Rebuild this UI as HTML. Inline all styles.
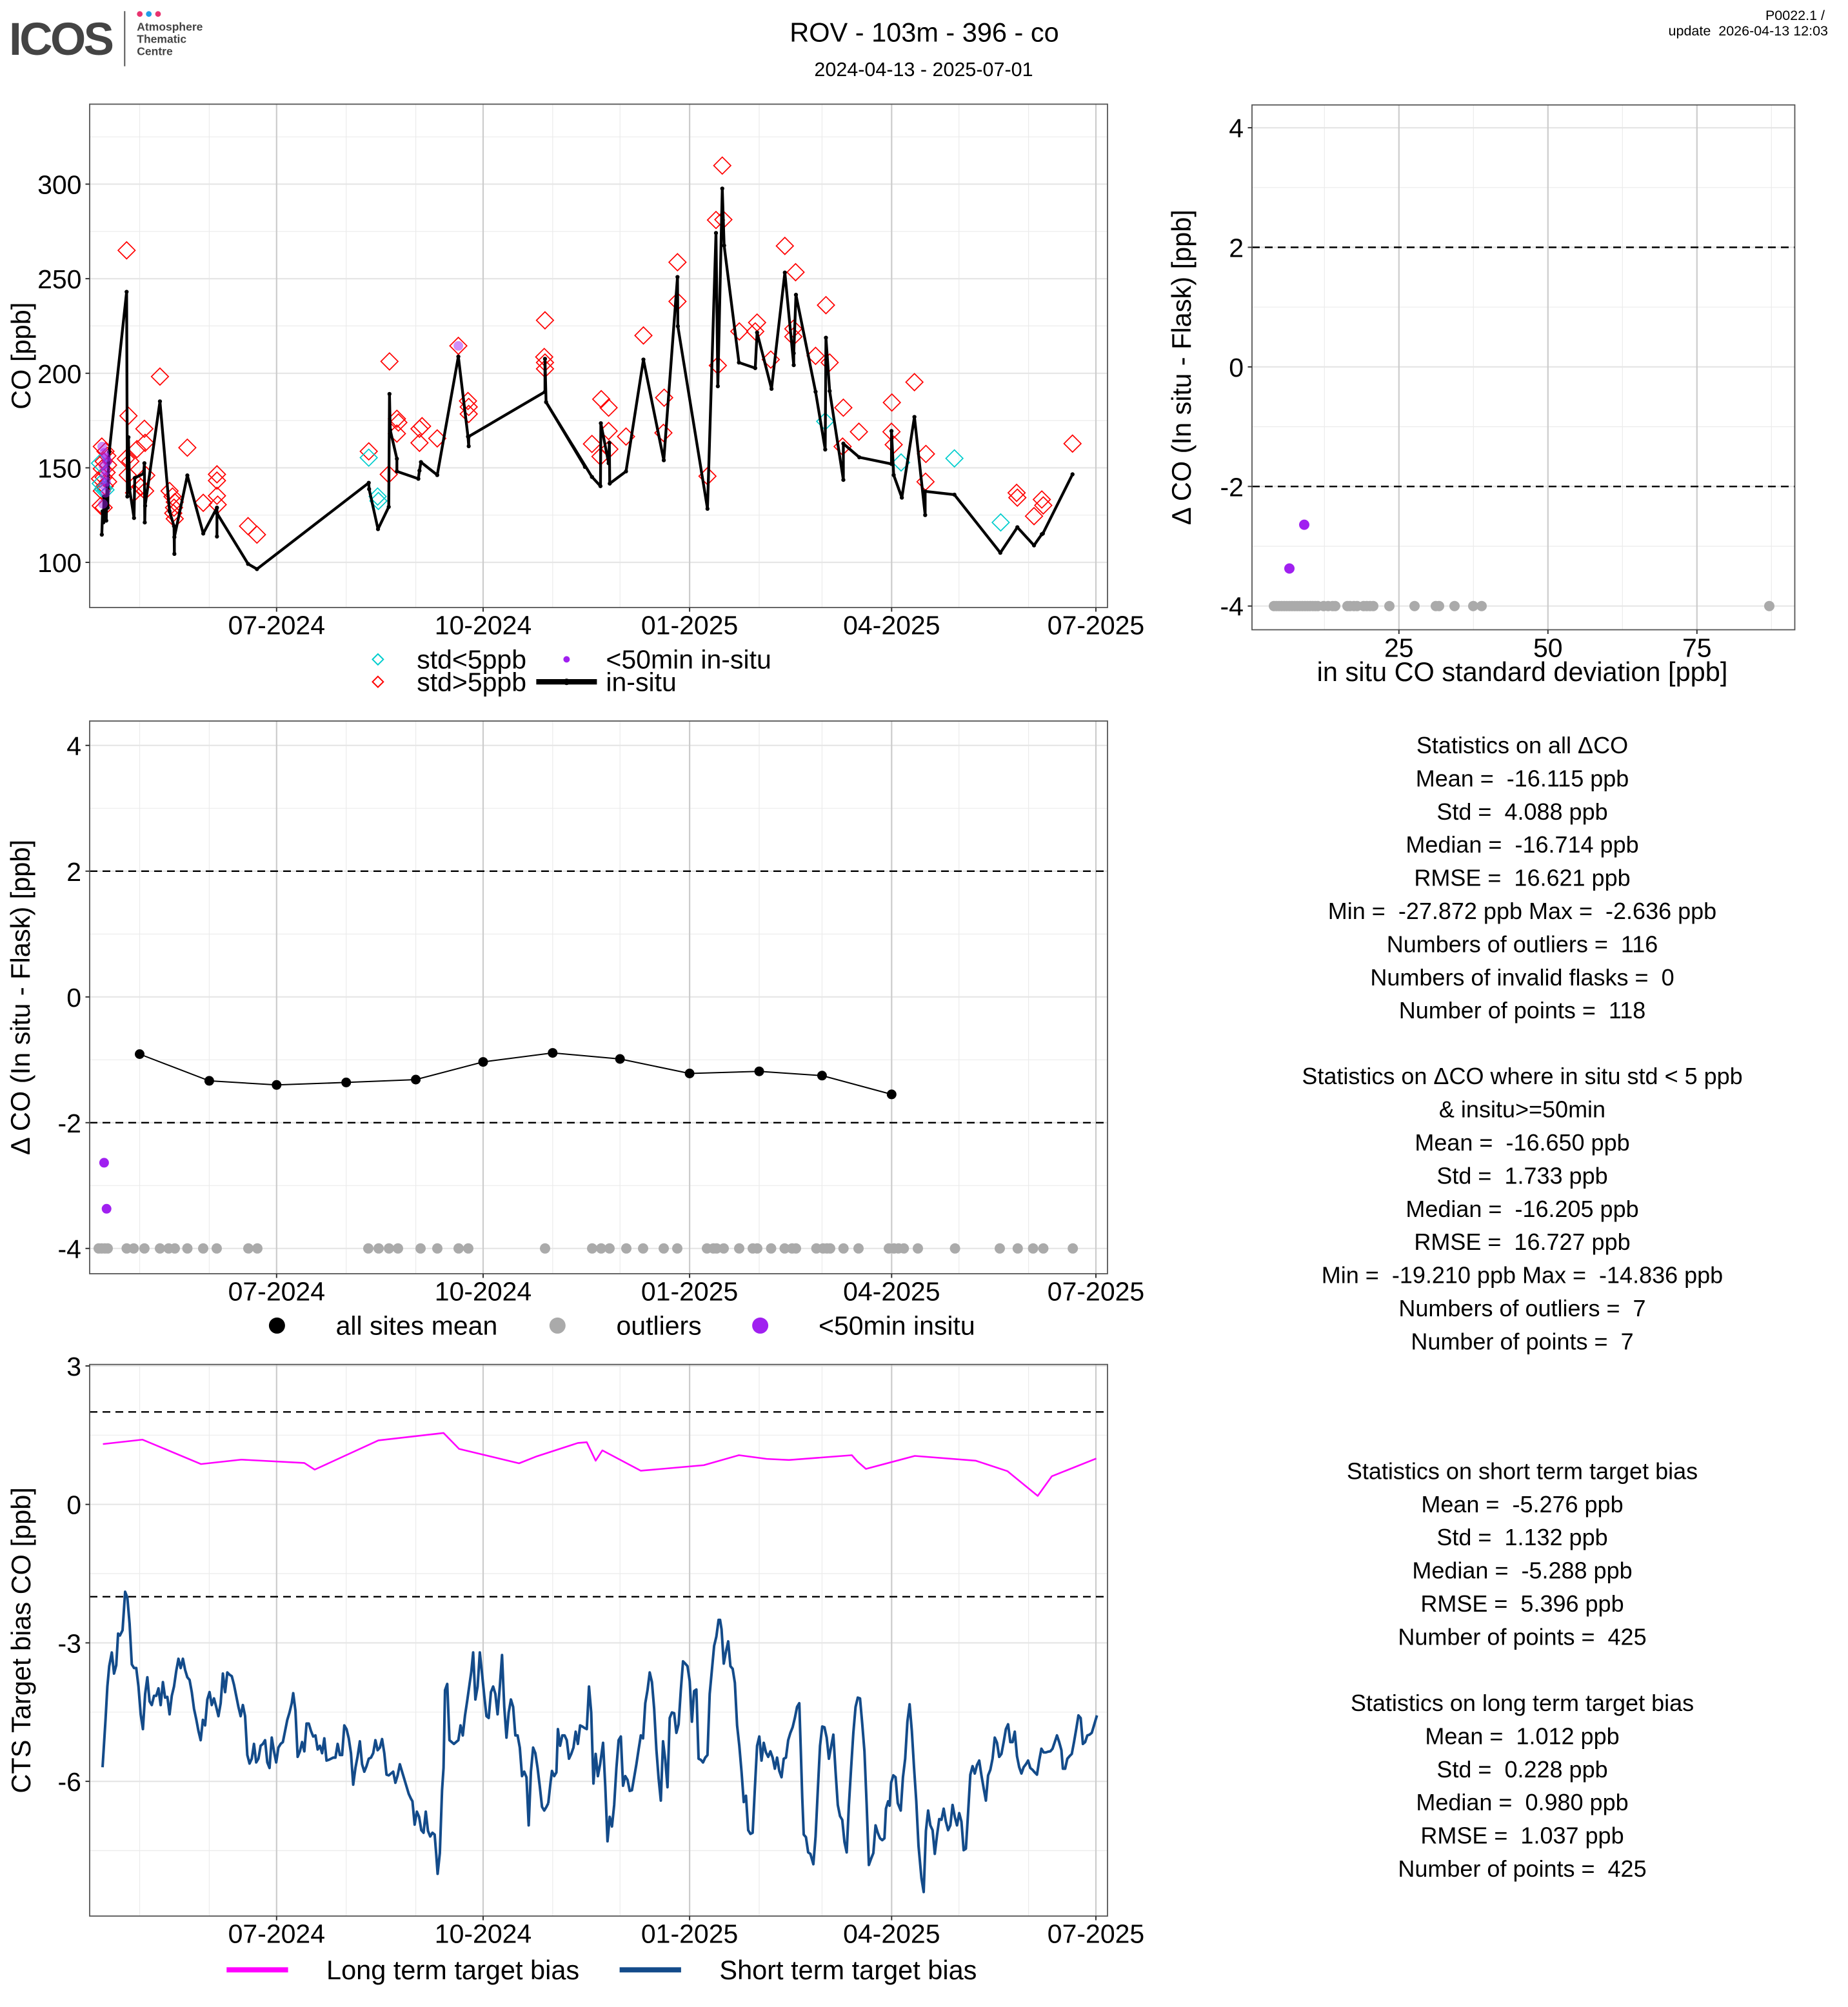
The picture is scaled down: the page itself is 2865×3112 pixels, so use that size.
<!DOCTYPE html>
<html><head><meta charset="utf-8">
<style>
html,body{margin:0;padding:0;background:#fff;}
svg{display:block;}
text{font-family:"Liberation Sans",Arial,sans-serif;fill:#000;}
</style></head>
<body>
<svg width="2865" height="3112" viewBox="0 0 2865 3112" xmlns="http://www.w3.org/2000/svg">
<defs>
<clipPath id="cTop"><rect x="139" y="161.5" width="1578" height="780.5"/></clipPath>
<clipPath id="cMid"><rect x="139" y="1118" width="1578" height="857"/></clipPath>
<clipPath id="cBot"><rect x="139" y="2115.7" width="1578" height="855.3"/></clipPath>
<path id="dm" d="M0,-23L23,0L0,23L-23,0Z" fill="none" stroke-width="3"/>
<marker id="mk" markerUnits="userSpaceOnUse" markerWidth="14" markerHeight="14" refX="7" refY="7"><circle cx="7" cy="7" r="5.5" fill="#000"/></marker>
</defs>
<rect width="2865" height="3112" fill="#fff"/>

<!-- header -->
<text x="14" y="85" font-size="71" font-weight="bold" textLength="163" lengthAdjust="spacing" style="fill:#444">ICOS</text>
<line x1="193.3" y1="17.3" x2="193.3" y2="102.7" stroke="#555" stroke-width="2"/>
<circle cx="216.7" cy="21.7" r="4.4" fill="#e8336f"/>
<circle cx="230.7" cy="21.7" r="4.4" fill="#1e9ee8"/>
<circle cx="245" cy="21.7" r="4.4" fill="#e8336f"/>
<text x="212.3" y="47.7" font-size="17.5" font-weight="bold" style="fill:#444">Atmosphere</text>
<text x="212.3" y="66.3" font-size="17.5" font-weight="bold" style="fill:#444">Thematic</text>
<text x="212.3" y="85.3" font-size="17.5" font-weight="bold" style="fill:#444">Centre</text>
<text x="1433" y="64.5" font-size="41.5" text-anchor="middle">ROV - 103m - 396 - co</text>
<text x="1432" y="118" font-size="30.5" text-anchor="middle">2024-04-13 - 2025-07-01</text>
<text x="2829" y="31" font-size="21.5" text-anchor="end">P0022.1 /</text>
<text x="2834" y="55" font-size="21.5" text-anchor="end">update &#160;2026-04-13 12:03</text>

<!-- ================= TOP PLOT ================= -->
<g stroke="#ebebeb" stroke-width="1.2">
<line x1="139" x2="1717" y1="212.2" y2="212.2"/><line x1="139" x2="1717" y1="358.8" y2="358.8"/>
<line x1="139" x2="1717" y1="505.4" y2="505.4"/><line x1="139" x2="1717" y1="652.1" y2="652.1"/>
<line x1="139" x2="1717" y1="798.7" y2="798.7"/>
<line y1="161.5" y2="942" x1="216.5" x2="216.5"/><line y1="161.5" y2="942" x1="324.4" x2="324.4"/>
<line y1="161.5" y2="942" x1="536.7" x2="536.7"/><line y1="161.5" y2="942" x1="644.6" x2="644.6"/>
<line y1="161.5" y2="942" x1="856.8" x2="856.8"/><line y1="161.5" y2="942" x1="961.2" x2="961.2"/>
<line y1="161.5" y2="942" x1="1177" x2="1177"/><line y1="161.5" y2="942" x1="1274.4" x2="1274.4"/>
<line y1="161.5" y2="942" x1="1486.7" x2="1486.7"/><line y1="161.5" y2="942" x1="1594.6" x2="1594.6"/>
</g>
<g stroke="#e6e6e6" stroke-width="2.2">
<line x1="139" x2="1717" y1="285.5" y2="285.5"/><line x1="139" x2="1717" y1="432.1" y2="432.1"/>
<line x1="139" x2="1717" y1="578.8" y2="578.8"/><line x1="139" x2="1717" y1="725.4" y2="725.4"/>
<line x1="139" x2="1717" y1="872" y2="872"/>
</g>
<g stroke="#cccccc" stroke-width="2.2">
<line y1="161.5" y2="942" x1="428.8" x2="428.8"/><line y1="161.5" y2="942" x1="749" x2="749"/>
<line y1="161.5" y2="942" x1="1069.1" x2="1069.1"/><line y1="161.5" y2="942" x1="1382.3" x2="1382.3"/>
<line y1="161.5" y2="942" x1="1699" x2="1699"/>
</g>

<g clip-path="url(#cTop)">
<g transform="translate(0,150) scale(0.57398)">
<g stroke="#ff0000">
<use href="#dm" x="275" y="945"/><use href="#dm" x="285" y="958"/><use href="#dm" x="290" y="970"/><use href="#dm" x="280" y="985"/>
<use href="#dm" x="292" y="995"/><use href="#dm" x="275" y="1005"/><use href="#dm" x="288" y="1015"/><use href="#dm" x="280" y="1028"/>
<use href="#dm" x="270" y="1032"/><use href="#dm" x="292" y="1040"/><use href="#dm" x="283" y="1052"/><use href="#dm" x="275" y="1065"/>
<use href="#dm" x="272" y="1105"/><use href="#dm" x="280" y="1110"/>
<use href="#dm" x="342" y="415"/><use href="#dm" x="347" y="862"/><use href="#dm" x="340" y="978"/><use href="#dm" x="352" y="985"/>
<use href="#dm" x="345" y="1022"/><use href="#dm" x="362" y="1070"/><use href="#dm" x="370" y="952"/><use href="#dm" x="390" y="897"/>
<use href="#dm" x="392" y="935"/><use href="#dm" x="380" y="1055"/><use href="#dm" x="395" y="1023"/><use href="#dm" x="392" y="1065"/>
<use href="#dm" x="432" y="756"/><use href="#dm" x="458" y="1065"/><use href="#dm" x="466" y="1080"/><use href="#dm" x="472" y="1095"/>
<use href="#dm" x="470" y="1110"/><use href="#dm" x="468" y="1125"/><use href="#dm" x="472" y="1140"/><use href="#dm" x="506" y="948"/>
<use href="#dm" x="549" y="1097"/><use href="#dm" x="586" y="1020"/><use href="#dm" x="586" y="1037"/><use href="#dm" x="586" y="1078"/>
<use href="#dm" x="588" y="1102"/><use href="#dm" x="670" y="1160"/><use href="#dm" x="694" y="1183"/><use href="#dm" x="996" y="958"/>
<use href="#dm" x="1052" y="715"/><use href="#dm" x="1050" y="1020"/><use href="#dm" x="1072" y="870"/><use href="#dm" x="1076" y="880"/>
<use href="#dm" x="1072" y="910"/><use href="#dm" x="1133" y="897"/><use href="#dm" x="1140" y="890"/><use href="#dm" x="1133" y="935"/>
<use href="#dm" x="1181" y="923"/><use href="#dm" x="1238" y="673"/><use href="#dm" x="1264" y="822"/><use href="#dm" x="1266" y="838"/>
<use href="#dm" x="1266" y="857"/><use href="#dm" x="1472" y="604"/><use href="#dm" x="1470" y="703"/><use href="#dm" x="1472" y="718"/>
<use href="#dm" x="1472" y="735"/>
</g>
<g stroke="#00cdcd">
<use href="#dm" x="996" y="975"/><use href="#dm" x="1020" y="1080"/><use href="#dm" x="1022" y="1092"/>
<use href="#dm" x="270" y="990"/><use href="#dm" x="272" y="1045"/><use href="#dm" x="278" y="1060"/><use href="#dm" x="285" y="1062"/>
</g>
<polyline fill="none" stroke="#000" stroke-width="7.5" stroke-linejoin="round" marker-start="url(#mk)" marker-mid="url(#mk)" marker-end="url(#mk)"
points="275,1183 277,1120 279,1150 281,1080 283,1130 285,1090 287,1145 289,1050 291,1110 293,990 295,960 342,527 344,1080 347,920 350,1060 362,1138 364,1030 388,1018 390,990 391,1150 392,1105 432,823 458,1120 470,1160 471,1235 471,1190 506,1023 549,1180 586,1110 586,1188 586,1125 670,1262 694,1276 996,1043 997,1060 1021,1168 1050,1108 1052,803 1054,900 1072,978 1072,1012 1130,1032 1133,1010 1137,987 1181,1022 1238,702 1264,918 1266,944 1266,918 1472,797 1472,708 1475,825 1580,1000"/>
<g fill="#a020f0" fill-opacity="0.5">
<circle cx="276" cy="945" r="13"/><circle cx="282" cy="962" r="13"/><circle cx="286" cy="975" r="13"/><circle cx="290" cy="985" r="13"/>
<circle cx="280" cy="998" r="13"/><circle cx="286" cy="1010" r="13"/><circle cx="282" cy="1025" r="13"/><circle cx="287" cy="1040" r="13"/>
<circle cx="281" cy="1050" r="13"/><circle cx="285" cy="1070" r="13"/><circle cx="278" cy="1100" r="13"/><circle cx="1238" cy="673" r="13"/>
</g>
</g>
<g transform="translate(850,150) scale(0.57398)">
<g stroke="#ff0000">
<use href="#dm" x="470" y="186"/><use href="#dm" x="453" y="333"/><use href="#dm" x="473" y="332"/><use href="#dm" x="349" y="447"/>
<use href="#dm" x="349" y="553"/><use href="#dm" x="257" y="645"/><use href="#dm" x="458" y="726"/><use href="#dm" x="143" y="817"/>
<use href="#dm" x="163" y="840"/><use href="#dm" x="313" y="813"/><use href="#dm" x="118" y="938"/><use href="#dm" x="163" y="903"/>
<use href="#dm" x="141" y="972"/><use href="#dm" x="165" y="952"/><use href="#dm" x="210" y="918"/><use href="#dm" x="311" y="908"/>
<use href="#dm" x="430" y="1025"/><use href="#dm" x="516" y="634"/><use href="#dm" x="564" y="610"/><use href="#dm" x="559" y="634"/>
<use href="#dm" x="601" y="710"/><use href="#dm" x="639" y="403"/><use href="#dm" x="668" y="474"/><use href="#dm" x="662" y="627"/>
<use href="#dm" x="662" y="648"/><use href="#dm" x="722" y="700"/><use href="#dm" x="750" y="563"/><use href="#dm" x="760" y="718"/>
<use href="#dm" x="797" y="840"/><use href="#dm" x="795" y="945"/><use href="#dm" x="839" y="905"/><use href="#dm" x="928" y="826"/>
<use href="#dm" x="927" y="905"/><use href="#dm" x="933" y="940"/><use href="#dm" x="989" y="771"/><use href="#dm" x="1020" y="965"/>
<use href="#dm" x="1019" y="1040"/><use href="#dm" x="1416" y="937"/><use href="#dm" x="1265" y="1070"/><use href="#dm" x="1267" y="1083"/>
<use href="#dm" x="1312" y="1133"/><use href="#dm" x="1333" y="1088"/><use href="#dm" x="1337" y="1104"/>
</g>
<g stroke="#00cdcd">
<use href="#dm" x="748" y="877"/><use href="#dm" x="953" y="988"/><use href="#dm" x="1097" y="977"/><use href="#dm" x="1222" y="1150"/>
</g>
<polyline fill="none" stroke="#000" stroke-width="7.5" stroke-linejoin="round" marker-mid="url(#mk)" marker-end="url(#mk)"
points="-6,825 118,1027 141,1052 142,882 163,990 165,935 166,1045 210,1012 257,710 312,982 349,487 350,620 430,1113 453,368 458,782 470,248 475,402 515,718 559,733 564,637 603,789 639,475 663,725 663,693 669,535 722,797 748,953 750,651 760,795 797,1035 797,937 840,974 927,992 927,903 933,1022 955,1083 989,865 1018,1130 1018,1066 1097,1075 1221,1232 1267,1163 1312,1212 1333,1182 1336,1180 1416,1020"/>
</g>
</g>
<rect x="139" y="161.5" width="1578" height="780.5" fill="none" stroke="#555" stroke-width="1.8"/>
<g stroke="#333" stroke-width="2">
<line x1="132.5" x2="139" y1="285.5" y2="285.5"/><line x1="132.5" x2="139" y1="432.1" y2="432.1"/>
<line x1="132.5" x2="139" y1="578.8" y2="578.8"/><line x1="132.5" x2="139" y1="725.4" y2="725.4"/>
<line x1="132.5" x2="139" y1="872" y2="872"/>
<line y1="942" y2="948.5" x1="428.8" x2="428.8"/><line y1="942" y2="948.5" x1="749" x2="749"/>
<line y1="942" y2="948.5" x1="1069.1" x2="1069.1"/><line y1="942" y2="948.5" x1="1382.3" x2="1382.3"/>
<line y1="942" y2="948.5" x1="1699" x2="1699"/>
</g>
<g font-size="41" text-anchor="end">
<text x="126.5" y="300.5">300</text><text x="126.5" y="447.1">250</text><text x="126.5" y="593.8">200</text>
<text x="126.5" y="740.4">150</text><text x="126.5" y="887">100</text>
</g>
<g font-size="41" text-anchor="middle">
<text x="428.8" y="983.4">07-2024</text><text x="749" y="983.4">10-2024</text><text x="1069.1" y="983.4">01-2025</text>
<text x="1382.3" y="983.4">04-2025</text><text x="1699" y="983.4">07-2025</text>
</g>
<text transform="translate(47,551.8) rotate(-90)" font-size="41.5" text-anchor="middle">CO [ppb]</text>
<!-- top legend -->
<path d="M585.9,1014L594.3,1022.4L585.9,1030.8L577.5,1022.4Z" fill="none" stroke="#00cdcd" stroke-width="2"/>
<path d="M585.9,1048.8L594.3,1057.2L585.9,1065.6L577.5,1057.2Z" fill="none" stroke="#ff0000" stroke-width="2"/>
<text x="646.2" y="1036.5" font-size="41">std&lt;5ppb</text>
<text x="646.2" y="1071.5" font-size="41">std&gt;5ppb</text>
<circle cx="878.4" cy="1022.4" r="5" fill="#a020f0"/>
<line x1="831.4" x2="925.4" y1="1057.2" y2="1057.2" stroke="#000" stroke-width="8.4"/>
<circle cx="878.4" cy="1057.2" r="5" fill="#000"/>
<text x="939.4" y="1036.5" font-size="41">&lt;50min in-situ</text>
<text x="939.4" y="1071.5" font-size="41">in-situ</text>

<!-- ================= RIGHT PLOT ================= -->
<g stroke="#ebebeb" stroke-width="1.2">
<line x1="1941" x2="2782.5" y1="290.8" y2="290.8"/><line x1="1941" x2="2782.5" y1="476.2" y2="476.2"/>
<line x1="1941" x2="2782.5" y1="661.6" y2="661.6"/><line x1="1941" x2="2782.5" y1="847" y2="847"/>
<line y1="162.7" y2="976.5" x1="2053.3" x2="2053.3"/><line y1="162.7" y2="976.5" x1="2284.3" x2="2284.3"/>
<line y1="162.7" y2="976.5" x1="2515.3" x2="2515.3"/><line y1="162.7" y2="976.5" x1="2746.3" x2="2746.3"/>
</g>
<g stroke="#e6e6e6" stroke-width="2.2">
<line x1="1941" x2="2782.5" y1="198.1" y2="198.1"/><line x1="1941" x2="2782.5" y1="383.5" y2="383.5"/>
<line x1="1941" x2="2782.5" y1="568.9" y2="568.9"/><line x1="1941" x2="2782.5" y1="754.3" y2="754.3"/>
<line x1="1941" x2="2782.5" y1="939.7" y2="939.7"/>
</g>
<g stroke="#cccccc" stroke-width="2.2">
<line y1="162.7" y2="976.5" x1="2168.8" x2="2168.8"/><line y1="162.7" y2="976.5" x1="2399.8" x2="2399.8"/>
<line y1="162.7" y2="976.5" x1="2630.8" x2="2630.8"/>
</g>
<g stroke="#000" stroke-width="2.4" stroke-dasharray="12,8">
<line x1="1941" x2="2782.5" y1="383.5" y2="383.5"/><line x1="1941" x2="2782.5" y1="754.3" y2="754.3"/>
</g>
<g fill="#aaaaaa">
<circle cx="1975" cy="939.7" r="8"/><circle cx="1979" cy="939.7" r="8"/><circle cx="1983" cy="939.7" r="8"/><circle cx="1987" cy="939.7" r="8"/>
<circle cx="1991" cy="939.7" r="8"/><circle cx="1995" cy="939.7" r="8"/><circle cx="1999" cy="939.7" r="8"/><circle cx="2003" cy="939.7" r="8"/>
<circle cx="2007" cy="939.7" r="8"/><circle cx="2011" cy="939.7" r="8"/><circle cx="2015" cy="939.7" r="8"/><circle cx="2019" cy="939.7" r="8"/>
<circle cx="2023" cy="939.7" r="8"/><circle cx="2027" cy="939.7" r="8"/><circle cx="2031" cy="939.7" r="8"/><circle cx="2035" cy="939.7" r="8"/>
<circle cx="2039" cy="939.7" r="8"/><circle cx="2043" cy="939.7" r="8"/><circle cx="2052" cy="939.7" r="8"/><circle cx="2059" cy="939.7" r="8"/>
<circle cx="2066" cy="939.7" r="8"/><circle cx="2070" cy="939.7" r="8"/><circle cx="2089" cy="939.7" r="8"/><circle cx="2093" cy="939.7" r="8"/>
<circle cx="2099" cy="939.7" r="8"/><circle cx="2104" cy="939.7" r="8"/><circle cx="2114" cy="939.7" r="8"/><circle cx="2119" cy="939.7" r="8"/>
<circle cx="2124" cy="939.7" r="8"/><circle cx="2129" cy="939.7" r="8"/><circle cx="2154" cy="939.7" r="8"/><circle cx="2193" cy="939.7" r="8"/>
<circle cx="2226" cy="939.7" r="8"/><circle cx="2231" cy="939.7" r="8"/><circle cx="2255" cy="939.7" r="8"/><circle cx="2284" cy="939.7" r="8"/>
<circle cx="2297" cy="939.7" r="8"/><circle cx="2743" cy="939.7" r="8"/>
</g>
<circle cx="1999" cy="881.5" r="8" fill="#a020f0"/>
<circle cx="2022" cy="813.6" r="8" fill="#a020f0"/>
<rect x="1941" y="162.7" width="841.5" height="813.8" fill="none" stroke="#555" stroke-width="1.8"/>
<g stroke="#333" stroke-width="2">
<line x1="1934.5" x2="1941" y1="198.1" y2="198.1"/><line x1="1934.5" x2="1941" y1="383.5" y2="383.5"/>
<line x1="1934.5" x2="1941" y1="568.9" y2="568.9"/><line x1="1934.5" x2="1941" y1="754.3" y2="754.3"/>
<line x1="1934.5" x2="1941" y1="939.7" y2="939.7"/>
<line y1="976.5" y2="983" x1="2168.8" x2="2168.8"/><line y1="976.5" y2="983" x1="2399.8" x2="2399.8"/>
<line y1="976.5" y2="983" x1="2630.8" x2="2630.8"/>
</g>
<g font-size="41" text-anchor="end">
<text x="1928" y="213.1">4</text><text x="1928" y="398.5">2</text><text x="1928" y="583.9">0</text>
<text x="1928" y="769.3">-2</text><text x="1928" y="954.7">-4</text>
</g>
<g font-size="41" text-anchor="middle">
<text x="2168.8" y="1018.3">25</text><text x="2399.8" y="1018.3">50</text><text x="2630.8" y="1018.3">75</text>
</g>
<text x="2360" y="1055.8" font-size="41.5" text-anchor="middle">in situ CO standard deviation [ppb]</text>
<text transform="translate(1846,569.6) rotate(-90)" font-size="41.5" text-anchor="middle">Δ CO (In situ - Flask) [ppb]</text>

<!-- ================= MIDDLE PLOT ================= -->
<g stroke="#ebebeb" stroke-width="1.2">
<line x1="139" x2="1717" y1="1253.3" y2="1253.3"/><line x1="139" x2="1717" y1="1448.3" y2="1448.3"/>
<line x1="139" x2="1717" y1="1643.3" y2="1643.3"/><line x1="139" x2="1717" y1="1838.3" y2="1838.3"/>
<line y1="1118" y2="1975" x1="216.5" x2="216.5"/><line y1="1118" y2="1975" x1="324.4" x2="324.4"/>
<line y1="1118" y2="1975" x1="536.7" x2="536.7"/><line y1="1118" y2="1975" x1="644.6" x2="644.6"/>
<line y1="1118" y2="1975" x1="856.8" x2="856.8"/><line y1="1118" y2="1975" x1="961.2" x2="961.2"/>
<line y1="1118" y2="1975" x1="1177" x2="1177"/><line y1="1118" y2="1975" x1="1274.4" x2="1274.4"/>
<line y1="1118" y2="1975" x1="1486.7" x2="1486.7"/><line y1="1118" y2="1975" x1="1594.6" x2="1594.6"/>
</g>
<g stroke="#e6e6e6" stroke-width="2.2">
<line x1="139" x2="1717" y1="1155.8" y2="1155.8"/><line x1="139" x2="1717" y1="1350.8" y2="1350.8"/>
<line x1="139" x2="1717" y1="1545.8" y2="1545.8"/><line x1="139" x2="1717" y1="1740.8" y2="1740.8"/>
<line x1="139" x2="1717" y1="1935.8" y2="1935.8"/>
</g>
<g stroke="#cccccc" stroke-width="2.2">
<line y1="1118" y2="1975" x1="428.8" x2="428.8"/><line y1="1118" y2="1975" x1="749" x2="749"/>
<line y1="1118" y2="1975" x1="1069.1" x2="1069.1"/><line y1="1118" y2="1975" x1="1382.3" x2="1382.3"/>
<line y1="1118" y2="1975" x1="1699" x2="1699"/>
</g>
<g stroke="#000" stroke-width="2.4" stroke-dasharray="12,8">
<line x1="139" x2="1717" y1="1350.8" y2="1350.8"/><line x1="139" x2="1717" y1="1740.8" y2="1740.8"/>
</g>
<g clip-path="url(#cMid)">
<polyline fill="none" stroke="#000" stroke-width="2" points="216.5,1634.5 324.4,1675.9 428.8,1682.3 536.7,1678.4 644.6,1674 749,1646.6 856.8,1632.6 961.2,1642 1069.1,1664.5 1177,1661.2 1274.4,1667.8 1382.3,1696.9"/>
<g fill="#000">
<circle cx="216.5" cy="1634.5" r="7.5"/><circle cx="324.4" cy="1675.9" r="7.5"/><circle cx="428.8" cy="1682.3" r="7.5"/>
<circle cx="536.7" cy="1678.4" r="7.5"/><circle cx="644.6" cy="1674" r="7.5"/><circle cx="749" cy="1646.6" r="7.5"/>
<circle cx="856.8" cy="1632.6" r="7.5"/><circle cx="961.2" cy="1642" r="7.5"/><circle cx="1069.1" cy="1664.5" r="7.5"/>
<circle cx="1177" cy="1661.2" r="7.5"/><circle cx="1274.4" cy="1667.8" r="7.5"/><circle cx="1382.3" cy="1696.9" r="7.5"/>
</g>
<g fill="#aaaaaa">
<circle cx="153" cy="1935.8" r="8"/><circle cx="157.5" cy="1935.8" r="8"/><circle cx="162.6" cy="1935.8" r="8"/><circle cx="167" cy="1935.8" r="8"/>
<circle cx="196.4" cy="1935.8" r="8"/><circle cx="207.3" cy="1935.8" r="8"/><circle cx="223.9" cy="1935.8" r="8"/><circle cx="248" cy="1935.8" r="8"/>
<circle cx="261.5" cy="1935.8" r="8"/><circle cx="271" cy="1935.8" r="8"/><circle cx="290.5" cy="1935.8" r="8"/><circle cx="315" cy="1935.8" r="8"/>
<circle cx="336" cy="1935.8" r="8"/><circle cx="385" cy="1935.8" r="8"/><circle cx="399" cy="1935.8" r="8"/><circle cx="571" cy="1935.8" r="8"/>
<circle cx="587" cy="1935.8" r="8"/><circle cx="603" cy="1935.8" r="8"/><circle cx="617" cy="1935.8" r="8"/><circle cx="652" cy="1935.8" r="8"/>
<circle cx="678" cy="1935.8" r="8"/><circle cx="711" cy="1935.8" r="8"/><circle cx="726" cy="1935.8" r="8"/><circle cx="845" cy="1935.8" r="8"/>
<circle cx="918" cy="1935.8" r="8"/><circle cx="932" cy="1935.8" r="8"/><circle cx="945" cy="1935.8" r="8"/><circle cx="971" cy="1935.8" r="8"/>
<circle cx="997" cy="1935.8" r="8"/><circle cx="1029" cy="1935.8" r="8"/><circle cx="1050" cy="1935.8" r="8"/><circle cx="1096" cy="1935.8" r="8"/>
<circle cx="1106" cy="1935.8" r="8"/><circle cx="1111" cy="1935.8" r="8"/><circle cx="1122" cy="1935.8" r="8"/><circle cx="1146" cy="1935.8" r="8"/>
<circle cx="1167" cy="1935.8" r="8"/><circle cx="1174" cy="1935.8" r="8"/><circle cx="1195.5" cy="1935.8" r="8"/><circle cx="1216.5" cy="1935.8" r="8"/>
<circle cx="1228" cy="1935.8" r="8"/><circle cx="1234" cy="1935.8" r="8"/><circle cx="1265.6" cy="1935.8" r="8"/><circle cx="1276" cy="1935.8" r="8"/>
<circle cx="1282" cy="1935.8" r="8"/><circle cx="1287" cy="1935.8" r="8"/><circle cx="1307.7" cy="1935.8" r="8"/><circle cx="1331" cy="1935.8" r="8"/>
<circle cx="1378" cy="1935.8" r="8"/><circle cx="1386" cy="1935.8" r="8"/><circle cx="1393" cy="1935.8" r="8"/><circle cx="1401.2" cy="1935.8" r="8"/>
<circle cx="1423" cy="1935.8" r="8"/><circle cx="1480.6" cy="1935.8" r="8"/><circle cx="1550" cy="1935.8" r="8"/><circle cx="1577.8" cy="1935.8" r="8"/>
<circle cx="1601.6" cy="1935.8" r="8"/><circle cx="1617.5" cy="1935.8" r="8"/><circle cx="1663.2" cy="1935.8" r="8"/>
</g>
<circle cx="161.4" cy="1802.9" r="7.5" fill="#a020f0"/>
<circle cx="165.2" cy="1874.3" r="7.5" fill="#a020f0"/>
</g>
<rect x="139" y="1118" width="1578" height="857" fill="none" stroke="#555" stroke-width="1.8"/>
<g stroke="#333" stroke-width="2">
<line x1="132.5" x2="139" y1="1155.8" y2="1155.8"/><line x1="132.5" x2="139" y1="1350.8" y2="1350.8"/>
<line x1="132.5" x2="139" y1="1545.8" y2="1545.8"/><line x1="132.5" x2="139" y1="1740.8" y2="1740.8"/>
<line x1="132.5" x2="139" y1="1935.8" y2="1935.8"/>
<line y1="1975" y2="1981.5" x1="428.8" x2="428.8"/><line y1="1975" y2="1981.5" x1="749" x2="749"/>
<line y1="1975" y2="1981.5" x1="1069.1" x2="1069.1"/><line y1="1975" y2="1981.5" x1="1382.3" x2="1382.3"/>
<line y1="1975" y2="1981.5" x1="1699" x2="1699"/>
</g>
<g font-size="41" text-anchor="end">
<text x="126" y="1170.8">4</text><text x="126" y="1365.8">2</text><text x="126" y="1560.8">0</text>
<text x="126" y="1755.8">-2</text><text x="126" y="1950.8">-4</text>
</g>
<g font-size="41" text-anchor="middle">
<text x="428.8" y="2016.5">07-2024</text><text x="749" y="2016.5">10-2024</text><text x="1069.1" y="2016.5">01-2025</text>
<text x="1382.3" y="2016.5">04-2025</text><text x="1699" y="2016.5">07-2025</text>
</g>
<text transform="translate(46,1546.5) rotate(-90)" font-size="41.5" text-anchor="middle">Δ CO (In situ - Flask) [ppb]</text>
<!-- middle legend -->
<circle cx="429.4" cy="2055.4" r="12.5" fill="#000"/>
<text x="520.6" y="2069.5" font-size="41">all sites mean</text>
<circle cx="864.3" cy="2055.4" r="12.5" fill="#aaaaaa"/>
<text x="955.5" y="2069.5" font-size="41">outliers</text>
<circle cx="1178.6" cy="2055.4" r="12.5" fill="#a020f0"/>
<text x="1269" y="2069.5" font-size="41">&lt;50min insitu</text>

<!-- ================= BOTTOM PLOT ================= -->
<g stroke="#ebebeb" stroke-width="1.2">
<line x1="139" x2="1717" y1="2225.3" y2="2225.3"/><line x1="139" x2="1717" y1="2440" y2="2440"/>
<line x1="139" x2="1717" y1="2654.8" y2="2654.8"/><line x1="139" x2="1717" y1="2869.5" y2="2869.5"/>
<line y1="2115.7" y2="2971" x1="216.5" x2="216.5"/><line y1="2115.7" y2="2971" x1="324.4" x2="324.4"/>
<line y1="2115.7" y2="2971" x1="536.7" x2="536.7"/><line y1="2115.7" y2="2971" x1="644.6" x2="644.6"/>
<line y1="2115.7" y2="2971" x1="856.8" x2="856.8"/><line y1="2115.7" y2="2971" x1="961.2" x2="961.2"/>
<line y1="2115.7" y2="2971" x1="1177" x2="1177"/><line y1="2115.7" y2="2971" x1="1274.4" x2="1274.4"/>
<line y1="2115.7" y2="2971" x1="1486.7" x2="1486.7"/><line y1="2115.7" y2="2971" x1="1594.6" x2="1594.6"/>
</g>
<g stroke="#e6e6e6" stroke-width="2.2">
<line x1="139" x2="1717" y1="2118" y2="2118"/><line x1="139" x2="1717" y1="2332.7" y2="2332.7"/>
<line x1="139" x2="1717" y1="2547.4" y2="2547.4"/><line x1="139" x2="1717" y1="2762.1" y2="2762.1"/>
</g>
<g stroke="#cccccc" stroke-width="2.2">
<line y1="2115.7" y2="2971" x1="428.8" x2="428.8"/><line y1="2115.7" y2="2971" x1="749" x2="749"/>
<line y1="2115.7" y2="2971" x1="1069.1" x2="1069.1"/><line y1="2115.7" y2="2971" x1="1382.3" x2="1382.3"/>
<line y1="2115.7" y2="2971" x1="1699" x2="1699"/>
</g>
<g stroke="#000" stroke-width="2.4" stroke-dasharray="12,8">
<line x1="139" x2="1717" y1="2189.3" y2="2189.3"/><line x1="139" x2="1717" y1="2475.8" y2="2475.8"/>
</g>
<g clip-path="url(#cBot)" fill="none" stroke-linejoin="round">
<g transform="translate(0,2110) scale(0.57398)">
<polyline stroke="#ff00ff" stroke-width="4.5" points="278,225 385,213 543,279 652,267 822,276 850,294 1022,215 1198,195 1240,238 1402,277 1450,258 1481,248"/>
<polyline stroke="#134b8a" stroke-width="7" points="277,1098 285,970 290,880 295,825 302,788 308,845 314,822 319,737 324,742 331,728 338,624 344,640 350,710 356,820 362,830 368,830 374,880 380,955 386,995 392,900 398,855 404,920 410,930 416,905 422,905 428,885 434,930 440,868 446,910 452,908 458,955 464,905 470,880 476,838 482,805 488,830 494,805 500,835 506,855 512,862 518,895 524,940 530,968 536,1000 542,1025 548,970 554,985 560,915 566,895 572,930 578,912 584,935 590,960 596,925 602,845 608,895 614,842 620,848 626,852 632,875 638,905 644,935 650,960 656,930 662,960 668,1065 674,1088 680,1075 686,1035 692,1085 698,1075 704,1040 710,1035 716,1025 722,1085 728,1100 734,1018 740,1055 746,1085 752,1045 758,1035 764,1030 770,1000 776,970 782,950 788,925 792,898 798,945 804,1070 810,1055 816,1030 822,1055 828,980 834,980 840,1000 846,1015 852,1012 858,1050 864,1040 870,1060 876,1020 882,1080 888,1078 894,1075 900,1072 906,1072 912,1035 918,1065 924,1065 930,985 936,995 942,1020 948,1060 954,1145 960,1100 966,1068 972,1028 978,1090 984,1110 990,1095 996,1075 1002,1072 1008,1060 1014,1025 1020,1052 1026,1045 1032,1022 1038,1060 1044,1118 1050,1120 1056,1115 1062,1110 1068,1140 1074,1120 1080,1090 1086,1110 1092,1130 1098,1150 1104,1170 1110,1183 1114,1190 1120,1253 1126,1218 1132,1232 1138,1268 1144,1275 1150,1218 1156,1270 1162,1285 1168,1275 1174,1280 1178,1330 1182,1386 1188,1330 1194,1160 1198,1100 1202,890 1208,873 1214,1025 1220,1030 1226,1035 1232,1030 1238,1025 1244,985 1250,1012 1256,958 1262,918 1268,875 1273,840 1278,788 1284,915 1290,880 1296,788 1302,845 1308,905 1314,960 1320,965 1326,895 1332,880 1338,900 1344,955 1350,880 1356,795 1362,935 1368,1018 1374,950 1380,915 1386,935 1392,1012 1398,1012 1404,1045 1410,1122 1416,1110 1422,1125 1428,1255 1434,1110 1440,1045 1446,1060 1452,1100 1458,1150 1464,1205 1470,1215 1476,1205 1481,1195"/>
</g>
<g transform="translate(850,2110) scale(0.57398)">
<polyline stroke="#ff00ff" stroke-width="4.5" points="0,248 80,222 104,220 128,270 146,242 250,297 420,282 515,255 590,265 650,268 820,255 835,272 858,292 990,257 1155,270 1240,298 1322,365 1360,312 1480,264"/>
<polyline stroke="#134b8a" stroke-width="7" points="0,1195 6,1140 10,1108 16,1122 22,1112 26,995 32,1040 38,1012 44,1012 50,1025 56,1075 62,1062 68,1045 74,1002 80,1035 86,985 92,988 98,992 104,995 110,880 116,950 122,1142 128,1062 134,1122 140,1090 148,1032 154,1150 160,1298 166,1232 172,1258 178,1200 184,1100 190,1025 196,1015 202,1148 208,1122 214,1132 220,1162 226,1160 232,1125 238,1090 244,1050 250,1012 256,1020 262,925 268,890 274,842 280,868 286,940 292,1050 298,1128 304,1188 310,1028 316,1078 322,1152 328,965 334,950 340,952 346,1005 352,982 358,890 364,812 370,818 376,825 382,865 388,975 394,892 400,888 406,1075 412,1078 418,1085 424,1072 430,1065 436,900 442,835 448,770 454,745 460,700 464,700 468,725 474,818 480,785 486,758 492,825 498,832 504,870 510,985 516,1040 522,1110 528,1192 534,1175 540,1268 546,1278 552,1275 558,1155 564,1040 570,1015 576,1080 582,1032 588,1058 594,1070 600,1055 606,1072 612,1102 618,1072 624,1108 630,1125 636,1075 642,1072 648,1025 654,1005 660,990 666,965 672,935 678,925 682,1050 686,1180 690,1280 696,1287 702,1328 708,1332 716,1360 722,1285 728,1160 734,1040 740,988 746,990 752,1018 758,1075 764,1042 770,1010 776,1110 782,1200 788,1230 794,1240 800,1300 806,1328 812,1200 818,1100 824,1005 830,935 836,910 842,912 848,980 854,1055 860,1200 866,1362 872,1345 878,1330 884,1255 890,1275 896,1290 902,1295 908,1290 912,1210 918,1190 922,1202 926,1140 932,1120 938,1125 944,1195 952,1215 958,1125 964,1075 970,975 976,928 982,1000 988,1100 994,1190 1000,1310 1008,1398 1014,1435 1020,1270 1026,1215 1032,1255 1038,1268 1044,1332 1050,1282 1056,1238 1062,1240 1068,1210 1074,1245 1080,1268 1086,1255 1092,1200 1098,1232 1104,1255 1110,1222 1116,1245 1122,1322 1128,1318 1134,1220 1140,1118 1146,1095 1152,1115 1158,1092 1164,1080 1170,1120 1176,1155 1182,1188 1188,1120 1194,1105 1200,1075 1206,1018 1212,1032 1218,1070 1224,1062 1230,1030 1236,995 1242,982 1248,1030 1254,1030 1260,1002 1266,1068 1272,1098 1278,1115 1284,1098 1290,1090 1296,1080 1302,1100 1308,1105 1314,1112 1320,1118 1326,1080 1332,1048 1338,1058 1344,1058 1350,1056 1356,1055 1362,1048 1368,1030 1374,1012 1380,1030 1386,1052 1390,1102 1396,1102 1402,1075 1408,1068 1414,1062 1420,1030 1426,995 1432,958 1438,965 1444,1035 1450,1030 1456,1012 1462,1010 1468,1005 1474,985 1482,958"/>
</g>
</g>
<rect x="139" y="2115.7" width="1578" height="855.3" fill="none" stroke="#555" stroke-width="1.8"/>
<g stroke="#333" stroke-width="2">
<line x1="132.5" x2="139" y1="2118" y2="2118"/><line x1="132.5" x2="139" y1="2332.7" y2="2332.7"/>
<line x1="132.5" x2="139" y1="2547.4" y2="2547.4"/><line x1="132.5" x2="139" y1="2762.1" y2="2762.1"/>
<line y1="2971" y2="2977.5" x1="428.8" x2="428.8"/><line y1="2971" y2="2977.5" x1="749" x2="749"/>
<line y1="2971" y2="2977.5" x1="1069.1" x2="1069.1"/><line y1="2971" y2="2977.5" x1="1382.3" x2="1382.3"/>
<line y1="2971" y2="2977.5" x1="1699" x2="1699"/>
</g>
<g font-size="41" text-anchor="end">
<text x="126" y="2133">3</text><text x="126" y="2347.7">0</text><text x="126" y="2562.4">-3</text><text x="126" y="2777.1">-6</text>
</g>
<g font-size="41" text-anchor="middle">
<text x="428.8" y="3012.5">07-2024</text><text x="749" y="3012.5">10-2024</text><text x="1069.1" y="3012.5">01-2025</text>
<text x="1382.3" y="3012.5">04-2025</text><text x="1699" y="3012.5">07-2025</text>
</g>
<text transform="translate(47,2543.4) rotate(-90)" font-size="41.5" text-anchor="middle">CTS Target bias CO [ppb]</text>
<!-- bottom legend -->
<line x1="351.3" x2="446.6" y1="3054.4" y2="3054.4" stroke="#ff00ff" stroke-width="8"/>
<text x="506" y="3069" font-size="41.5">Long term target bias</text>
<line x1="960.6" x2="1055.9" y1="3054.4" y2="3054.4" stroke="#134b8a" stroke-width="8"/>
<text x="1115.4" y="3069" font-size="41.5">Short term target bias</text>

<!-- ================= STATS TEXT ================= -->
<g font-size="36" text-anchor="middle">
<text x="2360" y="1168">Statistics on all ΔCO</text>
<text x="2360" y="1219.4">Mean = &#160;-16.115 ppb</text>
<text x="2360" y="1270.8">Std = &#160;4.088 ppb</text>
<text x="2360" y="1322.2">Median = &#160;-16.714 ppb</text>
<text x="2360" y="1373.6">RMSE = &#160;16.621 ppb</text>
<text x="2360" y="1425">Min = &#160;-27.872 ppb Max = &#160;-2.636 ppb</text>
<text x="2360" y="1476.4">Numbers of outliers = &#160;116</text>
<text x="2360" y="1527.8">Numbers of invalid flasks = &#160;0</text>
<text x="2360" y="1579.2">Number of points = &#160;118</text>
<text x="2360" y="1681.2">Statistics on ΔCO where in situ std &lt; 5 ppb</text>
<text x="2360" y="1732.6">&amp; insitu&gt;=50min</text>
<text x="2360" y="1784">Mean = &#160;-16.650 ppb</text>
<text x="2360" y="1835.4">Std = &#160;1.733 ppb</text>
<text x="2360" y="1886.8">Median = &#160;-16.205 ppb</text>
<text x="2360" y="1938.2">RMSE = &#160;16.727 ppb</text>
<text x="2360" y="1989.6">Min = &#160;-19.210 ppb Max = &#160;-14.836 ppb</text>
<text x="2360" y="2041">Numbers of outliers = &#160;7</text>
<text x="2360" y="2092.4">Number of points = &#160;7</text>
<text x="2360" y="2293.4">Statistics on short term target bias</text>
<text x="2360" y="2344.8">Mean = &#160;-5.276 ppb</text>
<text x="2360" y="2396.2">Std = &#160;1.132 ppb</text>
<text x="2360" y="2447.6">Median = &#160;-5.288 ppb</text>
<text x="2360" y="2499">RMSE = &#160;5.396 ppb</text>
<text x="2360" y="2550.4">Number of points = &#160;425</text>
<text x="2360" y="2653">Statistics on long term target bias</text>
<text x="2360" y="2704.4">Mean = &#160;1.012 ppb</text>
<text x="2360" y="2755.8">Std = &#160;0.228 ppb</text>
<text x="2360" y="2807.2">Median = &#160;0.980 ppb</text>
<text x="2360" y="2858.6">RMSE = &#160;1.037 ppb</text>
<text x="2360" y="2910">Number of points = &#160;425</text>
</g>
</svg>
</body></html>
